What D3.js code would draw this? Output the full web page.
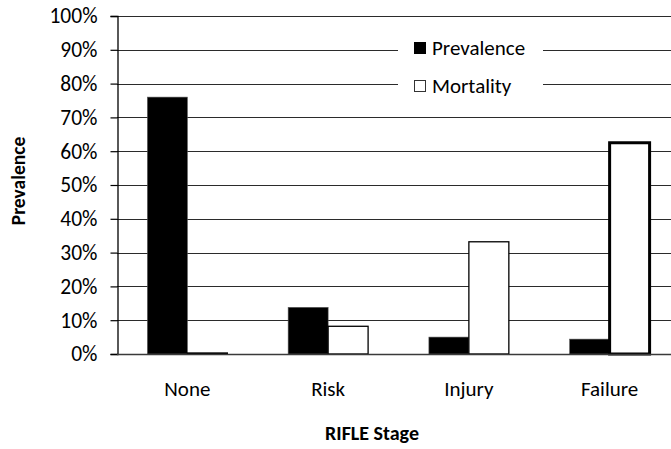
<!DOCTYPE html>
<html>
<head>
<meta charset="utf-8">
<script src="https://cdn.jsdelivr.net/npm/d3@7"></script>
<style>
  html, body { margin: 0; padding: 0; background: #fff; }
  svg text { font-family: Carlito, Calibri, Lato, sans-serif; fill: #000; }
</style>
</head>
<body>
<svg id="chart" width="671" height="449"></svg>
<script>
// RIFLE stages with prevalence and mortality (percent)
const stages = ["None", "Risk", "Injury", "Failure"];
const prevalence = [76, 13.8, 5.0, 4.4];
const mortality = [0.3, 8.2, 33.2, 62.5];
const yTicks = [0, 10, 20, 30, 40, 50, 60, 70, 80, 90, 100];
const seriesNames = ["Prevalence", "Mortality"];

const svg = d3.select("#chart");
const plotLeft = 117, plotRight = 680, plotTop = 16, plotBottom = 354;
const labelFont = "Carlito, Calibri, Lato, sans-serif";

const x = d3.scaleBand().domain(stages).range([plotLeft, plotRight]).paddingInner(0.432).paddingOuter(0.216);
const xs = d3.scaleBand().domain(seriesNames).range([0, x.bandwidth()]);
const y = d3.scaleLinear().domain([0, 100]).range([plotBottom, plotTop]);

// gridlines
svg.append("g")
  .selectAll("line").data(yTicks.filter(d => d > 0)).join("line")
  .attr("x1", plotLeft).attr("x2", 671)
  .attr("y1", d => Math.round(y(d)) + 0.5).attr("y2", d => Math.round(y(d)) + 0.5)
  .attr("stroke", "#2b2b2b").attr("stroke-width", 1.2);

// y axis
const yAxis = d3.axisLeft(y).tickValues(yTicks).tickFormat(d => d + "%").tickSize(7).tickPadding(13);
const gy = svg.append("g").attr("transform", `translate(${plotLeft + 0.5},0)`).call(yAxis);
gy.select(".domain").attr("stroke", "#000").attr("stroke-width", 1.3);
gy.selectAll(".tick line").attr("stroke", "#000").attr("stroke-width", 1.2);
gy.selectAll(".tick text").attr("font-size", 21.5).attr("fill", "#000").attr("font-family", labelFont);

// bars
const data = stages.map((s, i) => ({ stage: s, values: [
  { key: "Prevalence", v: prevalence[i] },
  { key: "Mortality", v: mortality[i] }
]}));

const groups = svg.append("g").selectAll("g").data(data).join("g")
  .attr("transform", d => `translate(${x(d.stage)},0)`);

groups.selectAll("rect").data(d => d.values.map(v => ({ ...v, stage: d.stage }))).join("rect")
  .attr("x", d => xs(d.key))
  .attr("y", d => y(d.v))
  .attr("width", xs.bandwidth())
  .attr("height", d => y(0) - y(d.v))
  .attr("fill", d => d.key === "Prevalence" ? "#000" : "#fff")
  .attr("stroke", d => d.key === "Prevalence" ? "#555" : "#000")
  .attr("stroke-width", d => d.key === "Mortality" && d.stage === "Failure" ? 3 : (d.key === "Prevalence" ? 0.6 : 1.3));

// baseline
svg.append("line").attr("x1", plotLeft).attr("x2", 671)
  .attr("y1", plotBottom + 0.5).attr("y2", plotBottom + 0.5)
  .attr("stroke", "#3a3a3a").attr("stroke-width", 1.3);

// x axis labels
const xAxis = d3.axisBottom(x).tickSize(0).tickPadding(27);
const gx = svg.append("g").attr("transform", `translate(0,${plotBottom})`).call(xAxis);
gx.select(".domain").remove();
gx.selectAll(".tick text").attr("font-size", 21).attr("fill", "#000").attr("font-family", labelFont);

// axis titles
svg.append("text").attr("x", 372).attr("y", 440).attr("text-anchor", "middle")
  .attr("font-size", 20).attr("font-weight", "bold").text("RIFLE Stage");
svg.append("text").attr("transform", "translate(25,181) rotate(-90)").attr("text-anchor", "middle")
  .attr("font-size", 19.5).attr("font-weight", "bold").text("Prevalence");

// legend
const legend = svg.append("g");
legend.append("rect").attr("x", 398).attr("y", 28).attr("width", 145).attr("height", 72).attr("fill", "#fff");
const items = legend.selectAll("g").data(seriesNames).join("g")
  .attr("transform", (d, i) => `translate(414,${48 + i * 38})`);
items.append("rect").attr("x", 0.5).attr("y", -5.5).attr("width", 11).attr("height", 11)
  .attr("fill", d => d === "Prevalence" ? "#000" : "#fff")
  .attr("stroke", d => d === "Prevalence" ? "#000" : "#333").attr("stroke-width", 1);
items.append("text").attr("x", 18).attr("dy", "0.35em").attr("font-size", 21).text(d => d);
</script>
</body>
</html>
